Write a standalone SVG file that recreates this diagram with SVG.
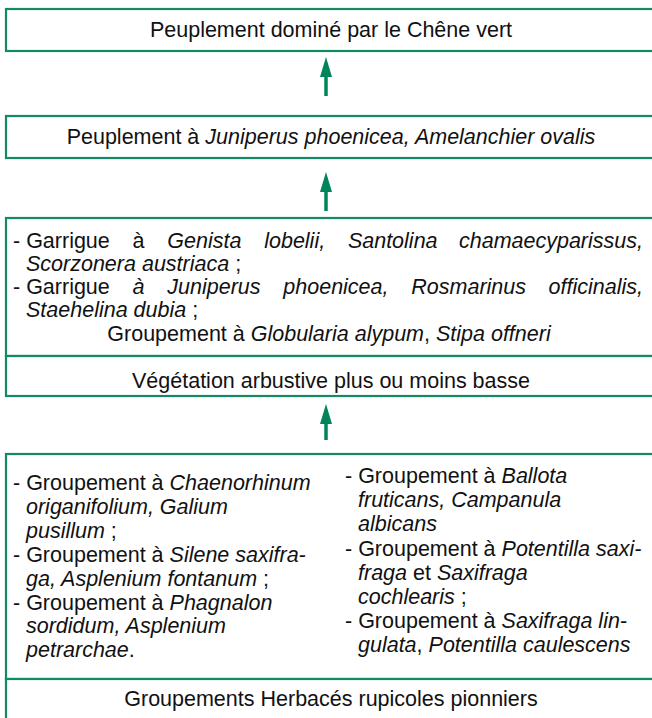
<svg xmlns="http://www.w3.org/2000/svg" width="652" height="718" viewBox="0 0 652 718">
<style>
.box{fill:#fff;stroke:#138a66;stroke-width:2.2}
text{font-family:"Liberation Sans",Arial,Helvetica,sans-serif;font-size:21.5px;fill:#111}
.c{text-anchor:middle}
.e{text-anchor:end}
.i{font-style:italic}
.arr{stroke:#00845c;stroke-width:3.5;fill:none}
</style>
<defs>
<marker id="ah" markerUnits="userSpaceOnUse" markerWidth="20" markerHeight="12" refX="0" refY="6" orient="auto">
<path d="M0,0 L20,6 L0,12 z" fill="#00845c"/>
</marker>
</defs>

<g id="connectors">
<line class="arr" x1="326" y1="96" x2="326" y2="77" marker-end="url(#ah)"/>
<line class="arr" x1="326" y1="211" x2="326" y2="192" marker-end="url(#ah)"/>
<line class="arr" x1="326" y1="440" x2="326" y2="424" marker-end="url(#ah)"/>
</g>

<g id="chene">
<rect class="box" x="6" y="9" width="660" height="42"/>
<text class="c" x="331" y="37">Peuplement dominé par le Chêne vert</text>
</g>

<g id="juniperus">
<rect class="box" x="6" y="116" width="660" height="42"/>
<text class="c" x="331" y="144">Peuplement à <tspan class="i">Juniperus phoenicea, Amelanchier ovalis</tspan></text>
</g>

<g id="garrigues">
<rect class="box" x="6" y="218" width="660" height="138"/>
<text y="248"><tspan x="13">- Garrigue</tspan><tspan x="132.5">à</tspan><tspan class="i" x="167.3">Genista</tspan><tspan class="i" x="264.2">lobelii,</tspan><tspan class="i" x="347.9">Santolina</tspan></text>
<text class="e i" x="643" y="248">chamaecyparissus,</text>
<text x="26" y="271"><tspan class="i">Scorzonera austriaca</tspan> ;</text>
<text y="294"><tspan x="13">- Garrigue</tspan><tspan class="i" x="132.5">à</tspan><tspan class="i" x="167.3">Juniperus</tspan><tspan class="i" x="283.3">phoenicea,</tspan><tspan class="i" x="411.3">Rosmarinus</tspan></text>
<text class="e i" x="643" y="294">officinalis,</text>
<text x="26" y="317"><tspan class="i">Staehelina dubia</tspan> ;</text>
<text class="c" x="329" y="341">Groupement à <tspan class="i">Globularia alypum</tspan>, <tspan class="i">Stipa offneri</tspan></text>
</g>

<g id="vegetation">
<rect class="box" x="6" y="356" width="660" height="40"/>
<text class="c" x="331" y="388">Végétation arbustive plus ou moins basse</text>
</g>

<g id="groupements">
<rect class="box" x="6" y="454" width="660" height="225"/>
<text x="13" y="490">- Groupement à <tspan class="i">Chaenorhinum</tspan></text>
<text class="i" x="26" y="514">origanifolium, Galium</text>
<text x="26" y="538"><tspan class="i">pusillum</tspan> ;</text>
<text x="13" y="562">- Groupement à <tspan class="i">Silene saxifra-</tspan></text>
<text x="26" y="586"><tspan class="i">ga, Asplenium fontanum</tspan> ;</text>
<text x="13" y="610">- Groupement à <tspan class="i">Phagnalon</tspan></text>
<text class="i" x="26" y="633">sordidum, Asplenium</text>
<text x="26" y="657"><tspan class="i">petrarchae</tspan>.</text>

<text x="345" y="483">- Groupement à <tspan class="i">Ballota</tspan></text>
<text class="i" x="358" y="507">fruticans, Campanula</text>
<text class="i" x="358" y="531">albicans</text>
<text x="345" y="556">- Groupement à <tspan class="i">Potentilla saxi-</tspan></text>
<text x="358" y="580"><tspan class="i">fraga</tspan> et <tspan class="i">Saxifraga</tspan></text>
<text x="358" y="604"><tspan class="i">cochlearis</tspan> ;</text>
<text x="345" y="628">- Groupement à <tspan class="i">Saxifraga lin-</tspan></text>
<text x="358" y="652"><tspan class="i">gulata</tspan>, <tspan class="i">Potentilla caulescens</tspan></text>
</g>

<g id="herbaces">
<rect class="box" x="6" y="679" width="660" height="60"/>
<text class="c" x="331" y="706">Groupements Herbacés rupicoles pionniers</text>
</g>
</svg>
